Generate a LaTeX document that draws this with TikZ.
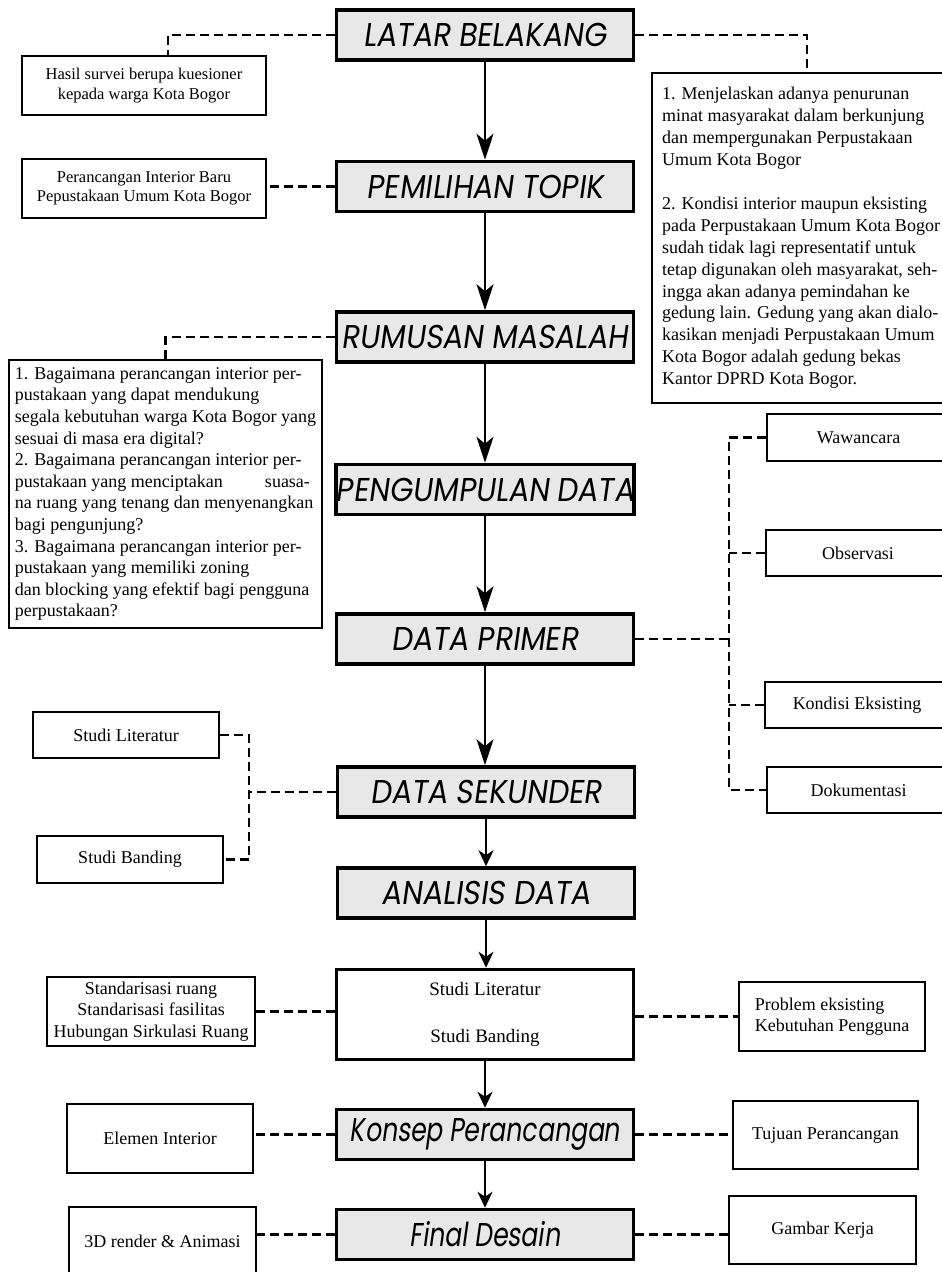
\documentclass[tikz,border=0pt]{standalone}
\usepackage{fontspec}
\setmainfont{Liberation Serif}
\newfontfamily\stagefont[FakeSlant=0.14,FakeStretch=0.9]{Poppins}
\newfontfamily\stagelower[FakeSlant=0.14,FakeStretch=0.76]{Poppins}
\usetikzlibrary{positioning, arrows.meta, calc}
\definecolor{stagefill}{RGB}{232,232,232}
\newcommand{\notesize}{\fontsize{18}{21.6}\selectfont}
\newcommand{\smallnote}{\fontsize{16.5}{19.5}\selectfont}

\begin{document}
\begin{tikzpicture}[
			x=1pt, y=-1pt,
			stage/.style={rectangle, draw=black, fill=stagefill, line width=3.5pt, minimum width=297pt, minimum height=50pt, inner sep=0pt, font=\stagefont\fontsize{33}{36}\selectfont},
			lowerstage/.style={stage, font=\stagelower\fontsize{33}{36}\selectfont},
			note/.style={rectangle, draw=black, fill=white, line width=1.8pt, inner sep=0pt, align=center, font=\notesize},
			link/.style={line width=2.2pt, dash pattern=on 9pt off 5pt},
			flow/.style={-{Stealth[length=26pt, width=17pt, inset=7pt]}, line width=2.4pt},
			shortflow/.style={-{Stealth[length=16pt, width=15pt, inset=5pt]}, line width=2.4pt}
			]
			\useasboundingbox (0,0) rectangle (942,1272);
			
			% Main column
			\node[stage] (latar) at (485,35) {LATAR BELAKANG};
			\node[stage] (topik) at (485,186.5) {PEMILIHAN TOPIK};
			\node[stage] (rumusan) at (485,337) {RUMUSAN MASALAH};
			\node[stage] (kumpul) at (485,489.5) {PENGUMPULAN DATA};
			\node[stage] (primer) at (485,639) {DATA PRIMER};
			\node[stage] (sekunder) at (486,792) {DATA SEKUNDER};
			\node[stage] (analisis) at (486,893) {ANALISIS DATA};
			\node[stage, fill=white, minimum height=90pt, align=center, font=\fontsize{19}{23}\selectfont] (studi) at (485,1014.5) {Studi Literatur\\[24pt]Studi Banding};
			\node[lowerstage] (konsep) at (485,1134.5) {Konsep Perancangan};
			\node[lowerstage] (final) at (485,1234.5) {Final Desain};
			
			% Left notes
			\node[note, minimum width=244pt, minimum height=59pt, font=\smallnote] (hasil) at (144,85.5) {Hasil survei berupa kuesioner\\kepada warga Kota Bogor};
			\node[note, minimum width=244pt, minimum height=59pt, font=\smallnote] (baru) at (144,188.5) {Perancangan Interior Baru\\Pepustakaan Umum Kota Bogor};
			\node[note, minimum width=313pt, minimum height=268pt, align=left] (masalah) at (165.5,494) {1. Bagaimana perancangan interior per-\\pustakaan yang dapat mendukung\\segala kebutuhan warga Kota Bogor yang\\sesuai di masa era digital?\\2. Bagaimana perancangan interior per-\\\makebox[295pt][l]{pustakaan yang menciptakan\hfill suasa-}\\na ruang yang tenang dan menyenangkan\\bagi pengunjung?\\3. Bagaimana perancangan interior per-\\pustakaan yang memiliki zoning\\dan blocking yang efektif bagi pengguna\\perpustakaan?};
			\node[note, minimum width=186pt, minimum height=46pt] (studilit) at (126,735) {Studi Literatur};
			\node[note, minimum width=186pt, minimum height=47pt] (studiband) at (130,859.5) {Studi Banding};
			\node[note, minimum width=208pt, minimum height=69pt] (standar) at (151,1011.5) {Standarisasi ruang\\Standarisasi fasilitas\\Hubungan Sirkulasi Ruang};
			\node[note, minimum width=186pt, minimum height=69pt] (elemen) at (160,1138.5) {Elemen Interior};
			\node[note, minimum width=187pt, minimum height=68pt] (render) at (162.5,1241) {3D render \& Animasi};
			
			% Right notes
			\node[note, minimum width=298pt, minimum height=330pt, align=left, font=\fontsize{18}{21.9}\selectfont] (latarinfo) at (801,238) {1. Menjelaskan adanya penurunan\\minat masyarakat dalam berkunjung\\dan mempergunakan Perpustakaan\\Umum Kota Bogor\\[21.9pt]2. Kondisi interior maupun eksisting\\pada Perpustakaan Umum Kota Bogor\\sudah tidak lagi representatif untuk\\tetap digunakan oleh masyarakat, seh-\\ingga akan adanya pemindahan ke\\gedung lain. Gedung yang akan dialo-\\kasikan menjadi Perpustakaan Umum\\Kota Bogor adalah gedung bekas\\Kantor DPRD Kota Bogor.};
			\node[note, minimum width=183pt, minimum height=47pt] (wawancara) at (858.5,437.5) {Wawancara};
			\node[note, minimum width=184pt, minimum height=46pt] (observasi) at (858,553) {Observasi};
			\node[note, minimum width=184pt, minimum height=46pt] (kondisi) at (857,705) {Kondisi Eksisting};
			\node[note, minimum width=183pt, minimum height=46pt] (dokumentasi) at (858.5,790) {Dokumentasi};
			\node[note, minimum width=186pt, minimum height=69pt, align=left] (problem) at (832,1016.5) {Problem eksisting\\Kebutuhan Pengguna};
			\node[note, minimum width=185pt, minimum height=68pt] (tujuan) at (825.5,1135) {Tujuan Perancangan};
			\node[note, minimum width=187pt, minimum height=68pt] (gambar) at (822.5,1230) {Gambar Kerja};
			
			\coordinate (rspine) at (729,0);
			\coordinate (lspine) at (249,0);
			
			% Arrows
			\foreach \a/\b in {latar/topik, topik/rumusan, rumusan/kumpul, kumpul/primer, primer/sekunder}
			\draw[flow] (\a.south) -- (\a.south |- \b.north);
			\foreach \a/\b in {sekunder/analisis, analisis/studi, studi/konsep, konsep/final}
			\draw[shortflow] (\a.south) -- (\a.south |- \b.north);
			
			% Dashed links
			\draw[link] (latar.west) -| ([xshift=24pt]hasil.north);
			\draw[link] (latar.east) -| ([xshift=6pt]latarinfo.north);
			\draw[link] (topik.west) -- (topik.west -| baru.east);
			\draw[link] (rumusan.west) -| (masalah.north);
			\draw[link] (primer.east) -- (primer.east -| rspine);
			\draw[link] (wawancara.west) -- (wawancara.west -| rspine) -- (dokumentasi.west -| rspine) -- (dokumentasi.west);
			\foreach \n in {observasi, kondisi}
			\draw[link] (\n.west) -- (\n.west -| rspine);
			\draw[link] (studilit.east) -- (studilit.east -| lspine) -- (studiband.east -| lspine) -- (studiband.east);
			\draw[link] (sekunder.west) -- (sekunder.west -| lspine);
			\draw[link] (standar.east) -- (standar.east -| studi.west);
			\draw[link] (studi.east |- problem.west) -- (problem.west);
			\draw[link] (konsep.west) -- (konsep.west -| elemen.east);
			\draw[link] (konsep.east) -- (konsep.east -| tujuan.west);
			\draw[link] (final.west) -- (final.west -| render.east);
			\draw[link] (final.east) -- (final.east -| gambar.west);
			
		\end{tikzpicture}
\end{document}
